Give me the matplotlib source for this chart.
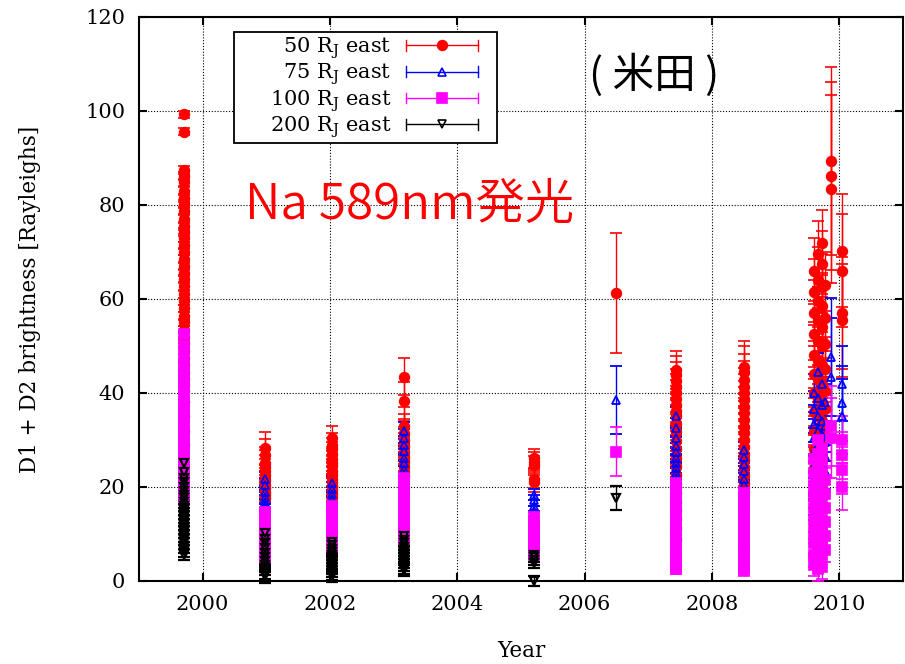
import matplotlib
matplotlib.use('Agg')
import matplotlib.pyplot as plt
from matplotlib.lines import Line2D
from matplotlib.legend_handler import HandlerBase

# observation campaigns (decimal year); 2009 season split into sub-dates
campaigns = [1999.70, 2000.98, 2002.03, 2003.16, 2005.21, 2006.49, 2007.44,
             2008.51, 2009.60, 2009.66, 2009.72, 2009.78, 2009.87, 2010.04]

# 50 RJ east
r50 = [
    [99.3, 95.6, 87.5, 86.2, 84.8, 83.0, 81.5, 80.2, 78.8, 77.0, 75.5, 74.2, 73.0,
     71.4, 70.1, 68.5, 67.0, 65.6, 64.2, 62.8, 61.0, 59.5, 58.0, 56.4, 55.0, 53.5,
     52.0, 50.6, 49.0, 47.5, 46.0, 44.5, 43.0, 41.8, 40.5, 38.0, 35.0, 32.0, 29.0],
    [28.2, 26.8, 25.0, 24.3, 23.3, 22.5, 21.4, 20.5, 19.8, 19.0, 18.2, 17.6],
    [30.5, 29.0, 28.0, 27.0, 26.0, 25.2, 24.4, 23.5, 22.6, 21.8, 21.0, 20.2, 19.4,
     18.6, 17.8],
    [43.5, 38.4, 33.0, 31.5, 30.0, 28.8, 27.5, 26.4, 25.3, 24.2, 23.2, 22.3],
    [26.1, 25.4, 24.6, 21.8, 21.0],
    [61.3],
    [44.9, 43.8, 42.5, 41.2, 40.0, 38.7, 37.5, 36.2, 35.0, 33.4, 31.6, 29.8, 28.0,
     26.1, 24.3, 22.5, 20.6, 18.8, 16.9, 15.0, 13.2, 11.3, 9.0],
    [45.6, 44.4, 42.8, 41.3, 39.9, 38.5, 37.1, 35.7, 34.3, 32.8, 31.4, 30.0, 28.6,
     27.1, 25.7, 24.2, 22.6, 20.8, 19.0],
    [66.0, 61.5, 57.0, 52.5, 48.0, 44.0, 40.0, 36.0, 32.0, 28.0, 24.0, 20.0, 16.0, 12.0],
    [69.5, 64.0, 59.5, 55.5, 51.0, 47.0, 43.0, 39.0, 35.0, 31.0, 27.0, 23.0],
    [72.0, 67.5, 62.5, 58.5, 54.0, 50.0, 46.0, 42.0, 38.0, 34.0, 30.0, 26.0, 22.0, 18.0],
    [63.0, 56.0, 50.5, 45.0, 40.5, 36.5, 32.5],
    [89.3, 86.2, 83.3],
    [70.3, 66.0, 57.0, 55.5],
]
r50_err = [0.8, 3.5, 2.5, 4.0, 2.0, 12.7, 4.0, 5.5, 7.0, 7.0, 7.0, 7.0, 20.0, 12.0]

# 75 RJ east
r75 = [
    [],
    [21.6, 20.4, 19.0, 17.8, 16.9, 16.0, 15.0, 14.0, 12.6, 11.2, 9.8, 8.4],
    [20.8, 19.6, 18.5, 17.4, 16.4, 15.4, 14.4, 13.4, 12.4, 11.4, 10.4, 9.2, 8.2],
    [32.0, 30.5, 29.0, 27.6, 26.2, 25.0, 23.8, 22.7, 21.6, 20.5, 19.4, 18.3, 17.2],
    [18.4, 17.2, 16.0, 14.8, 13.4, 11.8, 10.0, 8.4, 7.2],
    [38.5],
    [35.0, 32.6, 30.5, 28.8, 27.4, 26.2, 25.0, 24.0, 23.0, 22.0, 21.0, 19.6, 17.8,
     15.2, 12.4],
    [27.8, 26.3, 24.8, 23.3, 21.8, 20.4, 19.2, 18.0, 16.6, 15.0, 13.2, 11.2, 9.2,
     7.4, 5.8, 4.6],
    [40.0, 36.5, 33.5, 30.5, 27.5, 24.5, 21.5, 18.0, 14.5],
    [44.5, 39.0, 35.0, 32.0, 29.0, 26.0, 23.0, 20.0, 16.0, 12.0],
    [42.0, 37.5, 34.0, 31.0, 28.0, 25.0, 22.0, 19.0],
    [38.0, 33.0, 29.5, 26.5, 23.5],
    [47.7, 43.5],
    [42.0, 37.8, 35.0],
]
r75_err = [1.5, 1.5, 1.5, 1.8, 1.2, 7.2, 2.0, 1.8, 4.0, 4.0, 4.0, 4.0, 12.5, 8.0]

# 100 RJ east
r100 = [
    [52.5, 50.0, 47.6, 45.5, 43.8, 42.2, 40.8, 39.4, 38.0, 36.8, 35.6, 34.4, 33.2,
     32.0, 30.9, 29.8, 28.6, 27.4, 26.2, 25.0, 23.8, 22.6, 21.4, 20.2, 19.0, 17.8],
    [14.6, 13.8, 13.0, 12.2, 11.4, 10.6, 9.8, 9.0, 8.2, 7.4, 6.6, 5.8, 5.2],
    [16.0, 15.2, 14.3, 13.4, 12.6, 11.8, 11.0, 10.2, 9.4, 8.6, 7.8, 7.2],
    [22.0, 21.0, 20.0, 19.0, 18.0, 17.0, 16.0, 15.0, 14.0, 13.0, 12.0, 11.0, 10.0, 9.0],
    [13.6, 12.8, 12.0, 11.2, 10.4, 9.6, 8.8, 8.0, 7.2, 6.4, 5.6],
    [27.5],
    [20.8, 20.0, 19.0, 18.0, 17.0, 16.0, 15.0, 14.0, 13.0, 12.0, 11.0, 10.0, 9.0,
     8.0, 7.0, 6.0, 5.2, 4.4, 3.8, 3.2, 2.6],
    [18.8, 17.8, 16.8, 15.8, 14.8, 13.8, 12.8, 11.8, 10.8, 9.8, 8.8, 7.8, 6.8,
     5.8, 4.8, 3.8, 3.0, 2.3],
    [26.0, 23.0, 20.5, 18.0, 15.5, 13.0, 10.5, 8.0, 5.5, 3.5],
    [30.0, 27.0, 24.5, 22.0, 19.5, 17.0, 14.5, 12.0, 9.5, 7.0, 4.5, 2.5],
    [28.0, 25.5, 23.0, 20.5, 18.0, 15.5, 13.0, 10.5, 8.0, 5.5, 3.0],
    [21.5, 18.5, 15.5, 12.5, 9.5, 6.5],
    [33.0, 30.5],
    [30.0, 26.8, 23.6, 20.1],
]
r100_err = [0.6, 1.2, 1.2, 1.5, 1.0, 5.2, 1.2, 1.2, 2.5, 2.5, 2.5, 2.5, 8.5, 5.0]

# 200 RJ east
r200 = [
    [25.0, 23.2, 22.0, 21.0, 20.1, 19.2, 18.4, 17.6, 16.8, 16.0, 15.2, 14.4, 13.6,
     12.8, 12.0, 11.2, 10.4, 9.6, 8.8, 8.0, 7.2, 6.4, 5.6],
    [10.2, 9.0, 8.0, 7.0, 6.0, 5.0, 4.2, 3.4, 2.6, 1.8, 1.0],
    [8.4, 7.6, 6.9, 6.2, 5.6, 5.0, 4.4, 3.8, 3.2, 2.6, 2.0, 1.4, 1.0],
    [9.6, 8.8, 8.0, 7.3, 6.6, 6.0, 5.3, 4.7, 4.0, 3.4, 2.8, 2.3],
    [5.6, 5.0, 4.4, 3.8, 0.0],
    [17.6],
    [], [], [], [], [], [], [], [],
]
r200_err = [1.2, 1.4, 1.2, 1.3, 1.0, 2.6, 0, 0, 0, 0, 0, 0, 0, 0]

labels = ['50 R$_\\mathrm{J}$ east', '75 R$_\\mathrm{J}$ east',
          '100 R$_\\mathrm{J}$ east', '200 R$_\\mathrm{J}$ east']


def flatten(vals, errs):
    t, v, e = [], [], []
    for tc, vs, ec in zip(campaigns, vals, errs):
        t += [tc] * len(vs)
        v += vs
        e += [ec] * len(vs)
    return t, v, e


class ErrKey(HandlerBase):
    # gnuplot-like key sample: horizontal bar with end caps and the point,
    # leaving a little room at the right for the frame
    def create_artists(self, legend, orig, xd, yd, width, height, fontsize, trans):
        y = height / 2.0 - yd
        x0, x1 = -xd, -xd + width - 11
        c = orig.get_color()
        h = 0.36 * height
        bar = Line2D([x0, x1], [y, y], color=c, lw=1.0, transform=trans)
        capl = Line2D([x0, x0], [y - h, y + h], color=c, lw=1.0, transform=trans)
        capr = Line2D([x1, x1], [y - h, y + h], color=c, lw=1.0, transform=trans)
        mk = Line2D([(x0 + x1) / 2], [y], ls='none', marker=orig.get_marker(),
                    markersize=orig.get_markersize(),
                    markerfacecolor=orig.get_markerfacecolor(),
                    markeredgecolor=orig.get_markeredgecolor(),
                    markeredgewidth=orig.get_markeredgewidth(), transform=trans)
        return [bar, capl, capr, mk]


plt.rcParams['font.family'] = 'DejaVu Serif'
plt.rcParams['mathtext.fontset'] = 'dejavuserif'

fig = plt.figure(figsize=(9.05, 6.64), dpi=100)
ax = fig.add_axes([0.1536, 0.125, 0.8442, 0.8494])

styles = [
    (r50, r50_err, 'o', 'red', 'red', 7, 1.2),
    (r75, r75_err, '^', 'blue', 'none', 6, 1.3),
    (r100, r100_err, 's', '#ff00ff', '#ff00ff', 6.5, 1.2),
    (r200, r200_err, 'v', 'black', 'none', 5.5, 1.6),
]

handles = []
for (vals, errs, mk, col, face, ms, mw), lab in zip(styles, labels):
    t, v, e = flatten(vals, errs)
    ax.errorbar(t, v, yerr=e, fmt=mk, color=col, ecolor=col, mfc=face, mec=col,
                ms=ms, mew=mw, elinewidth=1.0, capsize=4, capthick=1.2,
                clip_on=(col != 'black'), zorder=3)
    handles.append(Line2D([], [], color=col, marker=mk, mfc=face, mec=col,
                          ms=ms, mew=1.2))

ax.set_xlim(1999, 2011)
ax.set_ylim(0, 120)
ax.set_xticks([2000, 2002, 2004, 2006, 2008, 2010])
ax.set_yticks([0, 20, 40, 60, 80, 100, 120])
ax.tick_params(direction='in', length=6, width=1.5, labelsize=15, pad=10,
               top=True, right=True)
ax.grid(True, color='black', linestyle=(0, (1, 1.6)), linewidth=0.8)
ax.set_axisbelow(True)
for s in ax.spines.values():
    s.set_linewidth(1.5)

ax.set_xlabel('Year', fontsize=15.5)
ax.set_ylabel('D1 + D2 brightness [Rayleighs]', fontsize=15.5)
ax.xaxis.set_label_coords(0.5, -0.105)
ax.yaxis.set_label_coords(-0.128, 0.5)

leg = ax.legend(handles, ['     ' + l for l in labels],
                handler_map={Line2D: ErrKey()}, loc='upper left',
                bbox_to_anchor=(0.124, 0.973), borderaxespad=0, fontsize=15,
                markerfirst=False, handlelength=4.2, handletextpad=0.7,
                labelspacing=0.04, borderpad=0.15, fancybox=False, framealpha=1,
                edgecolor='black')
leg.get_frame().set_linewidth(1.3)

ax.text(2007.09, 107.7, '( 米田 )', fontsize=30, ha='center', va='center',
        family=['Noto Sans CJK JP', 'DejaVu Sans'])
ax.text(2003.25, 80, 'Na 589nm発光', fontsize=35.5, color='red', ha='center',
        va='center', fontweight=350,
        family=['Noto Sans CJK JP', 'DejaVu Sans'])

fig.savefig('out.png', dpi=100)
